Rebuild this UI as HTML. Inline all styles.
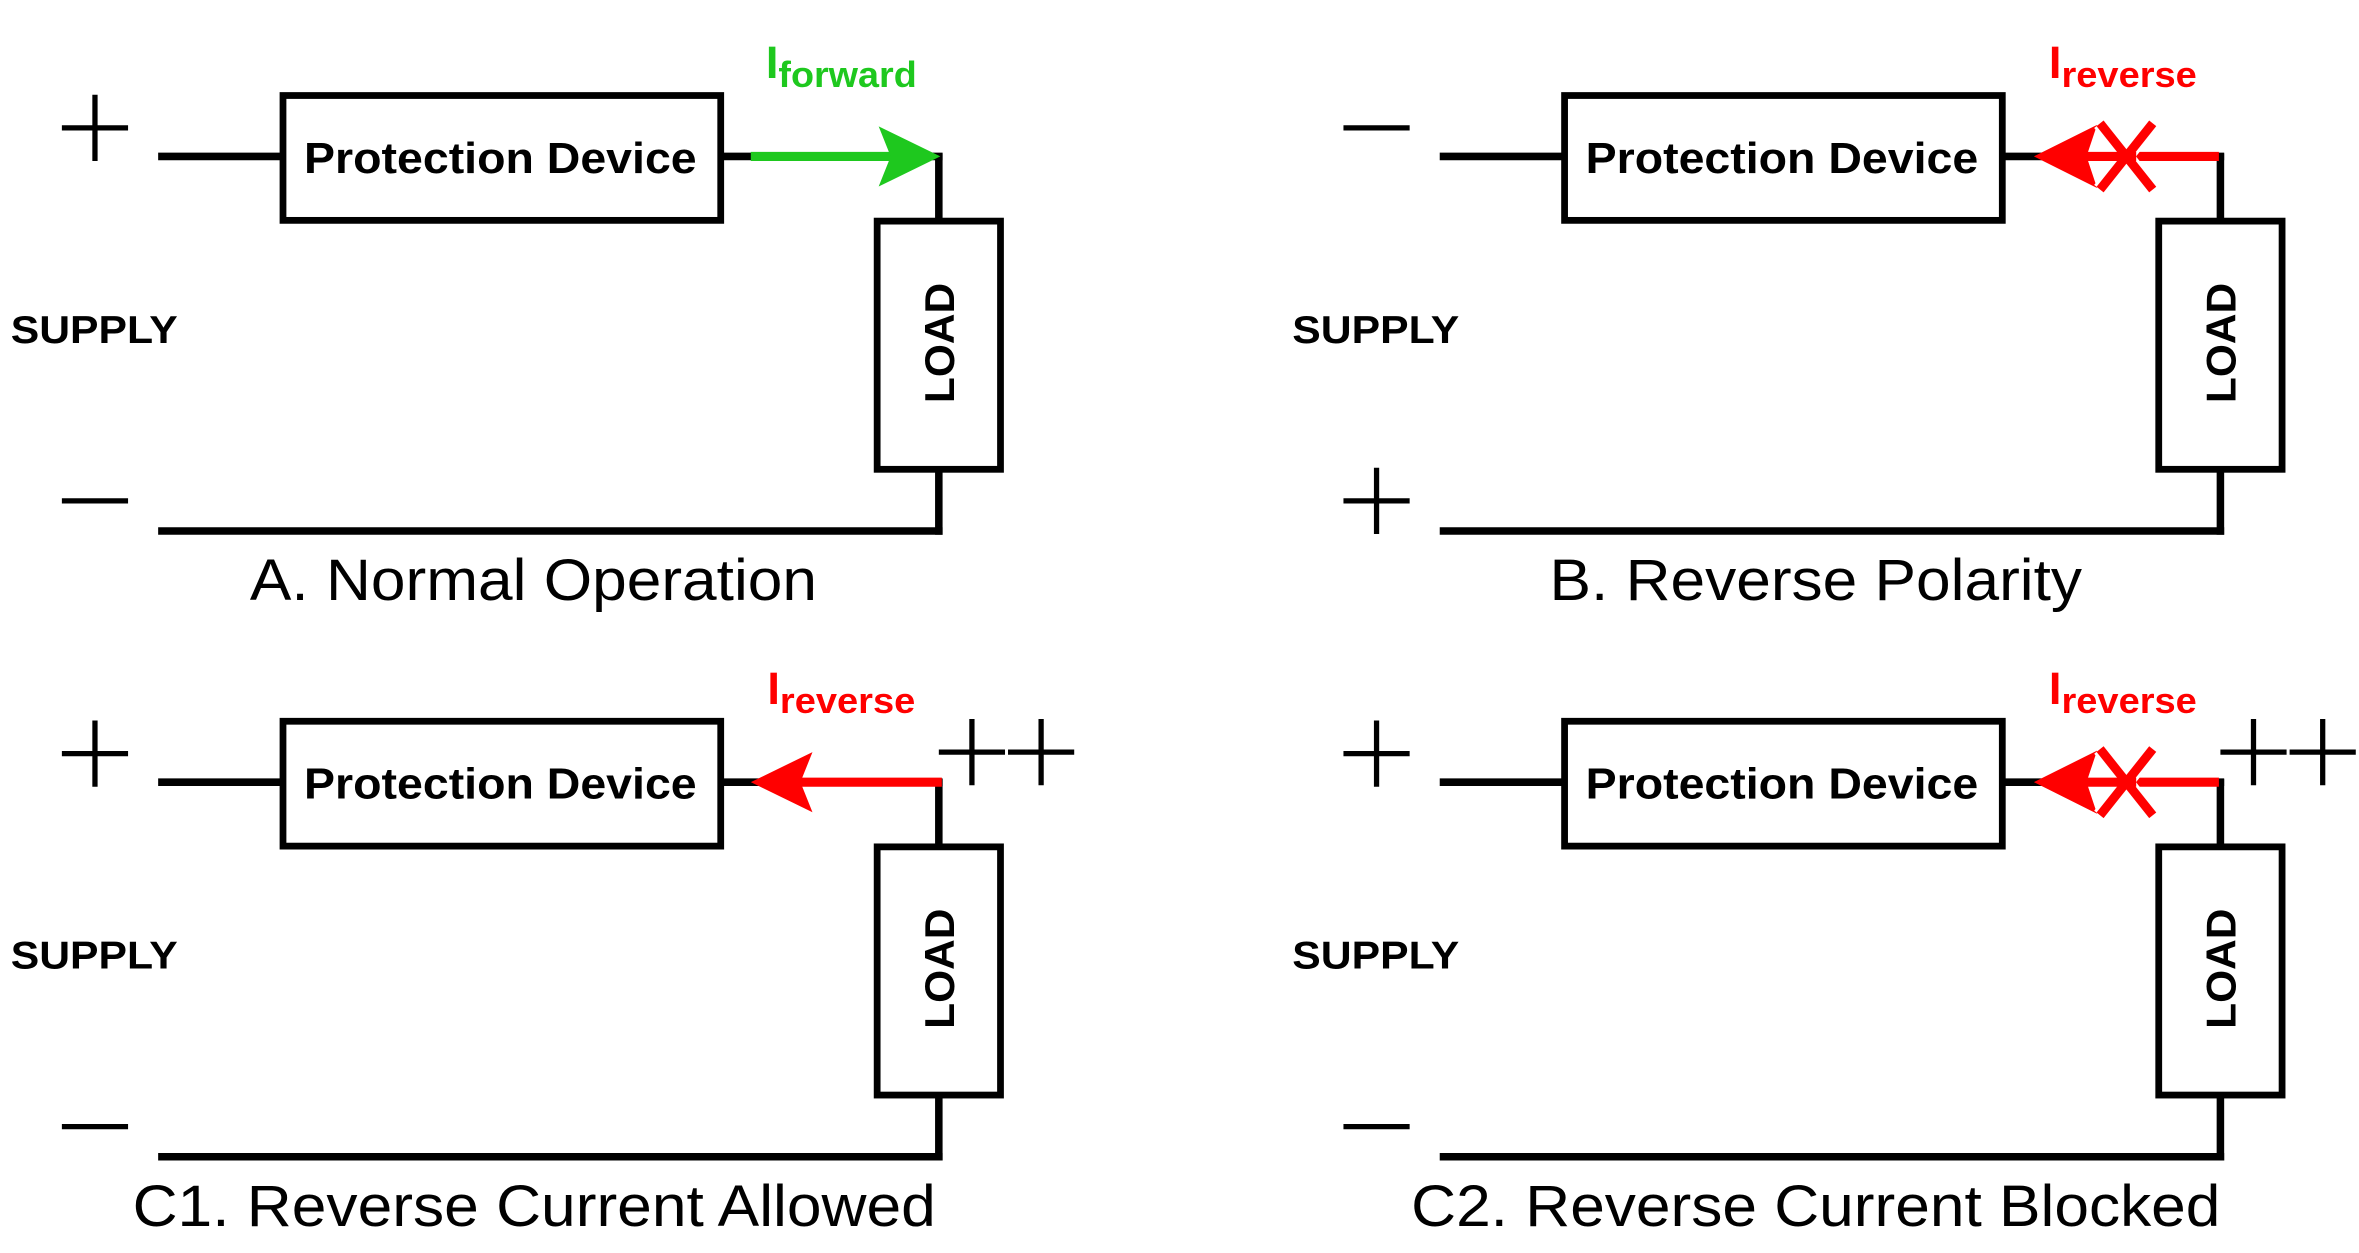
<!DOCTYPE html>
<html><head><style>html,body{margin:0;padding:0;background:#fff}svg{display:block}</style></head>
<body>
<svg width="2359" height="1253" viewBox="0 0 1568 833" xmlns="http://www.w3.org/2000/svg">
<defs>
<g id="circ">
  <line x1="105" y1="104" x2="186" y2="104" stroke="#000" stroke-width="5"/>
  <rect x="188" y="63.5" width="291" height="83" fill="#fff" stroke="#000" stroke-width="4.5"/>
  <text x="202" y="115" textLength="261" lengthAdjust="spacingAndGlyphs" font-family="Liberation Sans, sans-serif" font-weight="bold" font-size="29">Protection Device</text>
  <line x1="481" y1="104" x2="626.5" y2="104" stroke="#000" stroke-width="5"/>
  <line x1="624" y1="102" x2="624" y2="146" stroke="#000" stroke-width="5"/>
  <rect x="583" y="147" width="82" height="165" fill="#fff" stroke="#000" stroke-width="4.5"/>
  <text transform="translate(634,268) rotate(-90)" textLength="80" lengthAdjust="spacingAndGlyphs" font-family="Liberation Sans, sans-serif" font-weight="bold" font-size="28">LOAD</text>
  <line x1="624" y1="313" x2="624" y2="355.5" stroke="#000" stroke-width="5"/>
  <line x1="105" y1="353" x2="626.5" y2="353" stroke="#000" stroke-width="5"/>
  <text x="7" y="228" textLength="111" lengthAdjust="spacingAndGlyphs" font-family="Liberation Sans, sans-serif" font-weight="bold" font-size="26">SUPPLY</text>
</g>
<g id="plus"><line x1="-22" y1="0" x2="22" y2="0" stroke="#000" stroke-width="3.5"/><line x1="0" y1="-22" x2="0" y2="22" stroke="#000" stroke-width="3.5"/></g>
<g id="minus"><line x1="-22" y1="0" x2="22" y2="0" stroke="#000" stroke-width="3.5"/></g>
<g id="redx">
  <line x1="1414" y1="104" x2="1475" y2="104" stroke="#f00" stroke-width="6"/>
  <polygon points="1352,104 1394,83 1387,104 1394,125" fill="#f00"/>
  <line x1="1396" y1="82" x2="1431" y2="126" stroke="#fff" stroke-width="10"/>
  <line x1="1431" y1="82" x2="1396" y2="126" stroke="#fff" stroke-width="10"/>
  <line x1="1380" y1="104" x2="1420" y2="104" stroke="#f00" stroke-width="6"/>
  <line x1="1396" y1="82" x2="1431" y2="126" stroke="#f00" stroke-width="6"/>
  <line x1="1431" y1="82" x2="1396" y2="126" stroke="#f00" stroke-width="6"/>
</g>
</defs>

<!-- A -->
<use href="#circ"/>
<use href="#plus" x="63" y="85"/>
<use href="#minus" x="63" y="333"/>
<line x1="499" y1="104" x2="595" y2="104" stroke="#1ec81e" stroke-width="6"/>
<polygon points="584,84 625,104 584,124 592,104" fill="#1ec81e"/>
<text x="509" y="52" font-family="Liberation Sans, sans-serif" font-weight="bold" font-size="30" fill="#1ec81e">I<tspan font-size="24" dy="6" textLength="92" lengthAdjust="spacingAndGlyphs">forward</tspan></text>
<text x="166" y="399" textLength="377" lengthAdjust="spacingAndGlyphs" font-family="Liberation Sans, sans-serif" font-size="39">A. Normal Operation</text>

<!-- B -->
<use href="#circ" x="852"/>
<use href="#minus" x="915" y="85"/>
<use href="#plus" x="915" y="333"/>
<use href="#redx"/>
<text x="1362" y="52" font-family="Liberation Sans, sans-serif" font-weight="bold" font-size="30" fill="#f00">I<tspan font-size="24" dy="6" textLength="90" lengthAdjust="spacingAndGlyphs">reverse</tspan></text>
<text x="1030" y="399" textLength="354" lengthAdjust="spacingAndGlyphs" font-family="Liberation Sans, sans-serif" font-size="39">B. Reverse Polarity</text>

<!-- C1 -->
<use href="#circ" y="416"/>
<use href="#plus" x="63" y="501"/>
<use href="#minus" x="63" y="749"/>
<line x1="530" y1="520" x2="626" y2="520" stroke="#f00" stroke-width="6"/>
<polygon points="499,520 540,500 532,520 540,540" fill="#f00"/>
<use href="#plus" x="646" y="500"/>
<use href="#plus" x="692" y="500"/>
<text x="510" y="468" font-family="Liberation Sans, sans-serif" font-weight="bold" font-size="30" fill="#f00">I<tspan font-size="24" dy="6" textLength="90" lengthAdjust="spacingAndGlyphs">reverse</tspan></text>
<text x="88" y="815" textLength="534" lengthAdjust="spacingAndGlyphs" font-family="Liberation Sans, sans-serif" font-size="39">C1. Reverse Current Allowed</text>

<!-- C2 -->
<use href="#circ" x="852" y="416"/>
<use href="#plus" x="915" y="501"/>
<use href="#minus" x="915" y="749"/>
<use href="#redx" y="416"/>
<use href="#plus" x="1498" y="500"/>
<use href="#plus" x="1544" y="500"/>
<text x="1362" y="468" font-family="Liberation Sans, sans-serif" font-weight="bold" font-size="30" fill="#f00">I<tspan font-size="24" dy="6" textLength="90" lengthAdjust="spacingAndGlyphs">reverse</tspan></text>
<text x="938" y="815" textLength="538" lengthAdjust="spacingAndGlyphs" font-family="Liberation Sans, sans-serif" font-size="39">C2. Reverse Current Blocked</text>
</svg>
</body></html>
